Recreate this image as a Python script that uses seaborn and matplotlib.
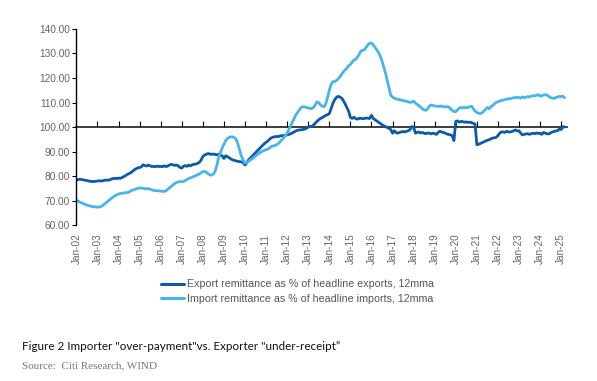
import pandas as pd
import matplotlib

matplotlib.use("Agg")
import matplotlib.pyplot as plt
import seaborn as sns

# monthly data, Jan-2002 .. Mar-2025
export_pct = [
    78.4, 78.6, 78.7, 78.6, 78.5, 78.3, 78.2, 78.0, 77.9, 77.8, 77.8, 77.9,  # 2002
    78.0, 78.1, 78.0, 78.1, 78.3, 78.4, 78.3, 78.5, 78.8, 79.0, 79.1, 79.0,  # 2003
    79.2, 79.1, 79.4, 79.8, 80.2, 80.7, 81.0, 81.4, 82.0, 82.6, 83.0, 83.4,  # 2004
    83.5, 83.8, 84.6, 84.3, 84.1, 84.5, 84.2, 83.9, 84.0, 83.8, 84.1, 83.9,  # 2005
    84.0, 83.8, 84.2, 83.9, 84.1, 84.5, 84.8, 84.6, 84.4, 84.5, 84.2, 83.5,  # 2006
    83.3, 84.0, 84.3, 84.0, 84.5, 84.2, 84.6, 84.8, 84.9, 85.2, 85.6, 86.5,  # 2007
    88.0, 88.6, 88.9, 89.2, 89.0, 88.9, 89.0, 88.8, 88.7, 88.9, 88.5, 88.3,  # 2008
    87.2, 88.3, 88.0, 87.5, 87.0, 86.6, 86.4, 86.2, 86.0, 85.9, 85.8, 85.5,  # 2009
    84.5, 85.5, 86.5, 87.3, 88.0, 88.8, 89.5, 90.3, 91.0, 91.8, 92.5, 93.2,  # 2010
    93.8, 94.3, 95.0, 95.6, 95.9, 96.0, 96.2, 96.1, 96.4, 96.5, 96.5, 96.6,  # 2011
    96.8, 97.0, 97.3, 97.6, 98.0, 98.4, 98.7, 98.8, 98.9, 99.0, 99.2, 99.5,  # 2012
    100.0, 100.3, 100.2, 100.8, 101.5, 102.3, 103.0, 103.5, 103.9, 104.3, 104.8, 105.0,  # 2013
    105.5, 107.5, 109.5, 111.0, 112.0, 112.5, 112.3, 111.8, 110.8, 109.5, 108.0, 106.5,  # 2014
    104.0, 103.5, 104.0, 103.5, 103.2, 103.5, 103.6, 103.4, 103.5, 103.7, 103.6, 103.5,  # 2015
    104.8, 103.5, 103.0, 102.5, 102.0, 101.5, 101.0, 100.5, 100.2, 99.8, 99.5, 99.0,  # 2016
    97.5, 98.5, 97.8, 97.5, 97.8, 98.0, 98.2, 98.0, 98.3, 98.5, 99.0, 100.2,  # 2017
    100.0, 97.5, 97.8, 98.0, 97.6, 97.8, 97.5, 97.3, 97.6, 97.5, 97.2, 97.5,  # 2018
    97.3, 97.0, 97.8, 98.3, 98.0, 97.8, 97.5, 97.2, 97.0, 96.8, 96.5, 94.5,  # 2019
    102.3, 102.5, 102.0, 102.3, 102.2, 102.0, 102.1, 101.9, 102.0, 101.8, 101.5, 101.2,  # 2020
    92.8, 93.0, 93.3, 93.6, 94.0, 94.3, 94.6, 94.8, 95.2, 95.5, 95.6, 95.8,  # 2021
    96.5, 97.5, 98.0, 98.0, 97.8, 98.3, 98.0, 98.0, 98.2, 98.5, 98.8, 98.4,  # 2022
    98.5, 97.5, 96.8, 97.0, 97.2, 97.3, 97.0, 97.3, 97.5, 97.3, 97.6, 97.4,  # 2023
    97.5, 97.0, 97.8, 97.5, 97.3, 97.2, 97.6, 98.0, 98.2, 98.4, 98.6, 99.2,  # 2024
    99.0, 100.2, 100.0,  # 2025
]

import_pct = [
    70.2, 69.8, 69.4, 69.1, 68.8, 68.5, 68.2, 68.0, 67.8, 67.6, 67.5, 67.4,  # 2002
    67.3, 67.4, 67.6, 68.0, 68.6, 69.2, 69.8, 70.4, 71.0, 71.5, 72.0, 72.4,  # 2003
    72.7, 72.9, 73.0, 73.1, 73.3, 73.2, 73.5, 74.0, 74.3, 74.5, 74.8, 75.0,  # 2004
    75.2, 75.1, 75.0, 74.9, 74.8, 74.9, 74.7, 74.4, 74.2, 74.0, 74.1, 74.0,  # 2005
    73.8, 73.9, 73.7, 74.0, 74.6, 75.2, 75.8, 76.4, 77.0, 77.4, 77.6, 77.8,  # 2006
    77.7, 77.8, 78.2, 78.6, 79.0, 79.3, 79.6, 79.9, 80.2, 80.5, 80.9, 81.3,  # 2007
    81.8, 82.0, 81.6, 81.0, 80.5, 80.4, 80.8, 82.0, 84.5, 87.5, 89.5, 91.5,  # 2008
    93.0, 94.5, 95.3, 95.8, 96.0, 96.0, 95.7, 95.0, 93.0, 90.5, 88.0, 86.5,  # 2009
    85.3, 85.5, 86.0, 86.5, 87.0, 87.6, 88.2, 88.8, 89.3, 89.8, 90.2, 90.5,  # 2010
    90.8, 91.0, 91.5, 92.0, 92.3, 92.5, 92.8, 93.3, 94.0, 94.8, 95.5, 96.5,  # 2011
    97.5, 99.0, 100.5, 102.0, 103.5, 105.0, 106.0, 107.0, 108.0, 108.3, 108.2, 108.0,  # 2012
    107.8, 107.6, 107.5, 108.0, 109.0, 110.3, 110.0, 109.0, 108.5, 108.3, 109.5, 112.0,  # 2013
    115.0, 117.5, 118.5, 118.5, 119.0, 119.5, 120.5, 121.5, 122.5, 123.3, 124.0, 125.0,  # 2014
    125.5, 126.5, 127.3, 127.5, 128.5, 129.5, 131.0, 131.3, 131.5, 132.5, 133.5, 134.2,  # 2015
    134.3, 133.5, 132.5, 131.5, 130.5, 129.0, 127.0, 124.5, 122.0, 119.0, 116.0, 113.0,  # 2016
    112.2, 111.8, 111.5, 111.3, 111.2, 111.0, 110.8, 110.6, 110.5, 110.3, 110.0, 110.3,  # 2017
    110.5, 109.8, 109.3, 108.8, 108.2, 107.5, 107.0, 106.8, 107.5, 108.5, 109.0, 108.8,  # 2018
    108.6, 108.5, 108.5, 108.4, 108.6, 108.3, 108.2, 108.3, 108.2, 107.5, 106.8, 106.3,  # 2019
    106.3, 107.0, 107.8, 108.0, 107.8, 108.0, 107.9, 108.0, 108.3, 108.5, 107.5, 106.5,  # 2020
    106.0, 105.6, 105.5, 105.8, 106.5, 107.2, 108.0, 107.5, 108.2, 108.8, 109.5, 110.0,  # 2021
    110.3, 110.6, 110.8, 111.0, 111.2, 111.4, 111.6, 111.5, 111.8, 112.0, 111.9, 112.2,  # 2022
    112.0, 111.8, 112.3, 112.0, 112.2, 112.4, 112.3, 112.6, 112.8, 112.7, 113.0, 113.2,  # 2023
    112.6, 112.8, 113.0, 113.2, 113.0, 112.5, 112.0, 111.8, 111.7, 112.0, 112.3, 112.5,  # 2024
    112.4, 112.6, 111.9,  # 2025
]

export_label = "Export remittance as % of headline exports, 12mma"
import_label = "Import remittance as % of headline imports, 12mma"
title_text = 'Figure 2 Importer "over-payment"vs. Exporter "under-receipt\u201d'
source_text = "Source:  Citi Research, WIND"

dates = pd.date_range("2002-01-01", periods=len(export_pct), freq="MS")
df = pd.DataFrame({"date": dates, "Export": export_pct, "Import": import_pct})
long = df.melt(id_vars="date", var_name="series", value_name="pct")

sns.set_theme(style="white")
plt.rcParams["font.family"] = ["Liberation Sans", "DejaVu Sans"]

DARK = "#0b5aab"
LIGHT = "#45b5ec"
GREY = "#666666"

fig = plt.figure(figsize=(5.97, 3.81), dpi=100)
ax = fig.add_axes([0.128, 0.409, 0.822, 0.515])

sns.lineplot(data=long, x="date", y="pct", hue="series",
             palette={"Export": DARK, "Import": LIGHT}, linewidth=2.0,
             ax=ax, legend=False)

ax.set_ylim(60, 140)
ax.set_xlim(pd.Timestamp("2002-01-01"), pd.Timestamp("2025-04-15"))
ax.set_yticks(range(60, 141, 10))
ax.yaxis.set_major_formatter(matplotlib.ticker.FormatStrFormatter("%.2f"))
ax.set_xlabel("")
ax.set_ylabel("")

for s in ["top", "right", "bottom"]:
    ax.spines[s].set_visible(False)
ax.spines["left"].set_color("black")
ax.spines["left"].set_linewidth(1.0)

ax.tick_params(axis="y", direction="out", length=3, width=0.8, color="black",
               labelsize=7.3, labelcolor=GREY, pad=1.5, left=True)

years = pd.date_range("2002-01-01", "2025-01-01", freq="YS")
ax.set_xticks(years)
ax.set_xticklabels([d.strftime("Jan-%y") for d in years], rotation=90)
ax.tick_params(axis="x", length=0, labelsize=7.2, labelcolor=GREY, pad=6)

# horizontal axis line at 100 with tick marks hanging down
sec = ax.secondary_xaxis(0.5)
sec.set_xticks(years)
sec.set_xticklabels([])
sec.tick_params(axis="x", direction="out", length=4, width=0.8, color="black")
sec.spines["bottom"].set_color("black")
sec.spines["bottom"].set_linewidth(1.0)

# legend
handles = [plt.Line2D([], [], color=DARK, lw=2.2),
           plt.Line2D([], [], color=LIGHT, lw=2.2)]
fig.legend(handles, [export_label, import_label], loc="upper left",
           bbox_to_anchor=(0.262, 0.278), frameon=False, fontsize=7.7,
           labelcolor="#555555", handlelength=2.2, handletextpad=0.3,
           labelspacing=0.4, borderaxespad=0)

fig.text(0.037, 0.082, title_text, fontsize=8.4, color="#111111",
         family=["Lato", "DejaVu Sans"])
fig.text(0.037, 0.033, source_text, fontsize=8, color="#777777",
         family=["Liberation Serif", "DejaVu Serif"])

fig.savefig("out.png", dpi=100, facecolor="white")
